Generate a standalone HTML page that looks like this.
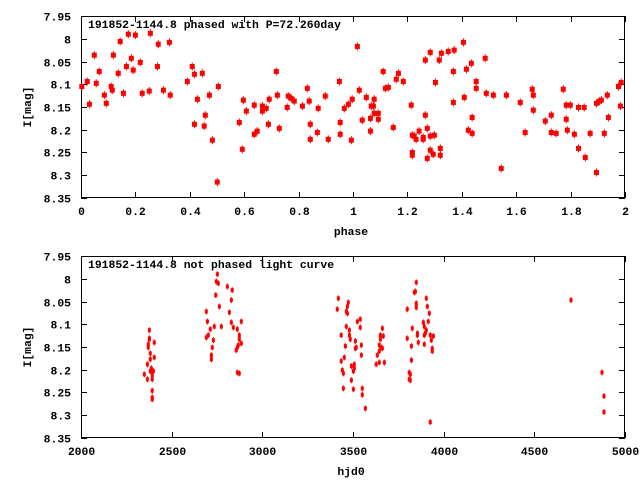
<!DOCTYPE html>
<html><head><meta charset="utf-8"><style>
html,body{margin:0;padding:0;background:#fff;}
svg text{font-family:"Liberation Mono",monospace;font-size:11.4px;font-weight:bold;fill:#000;}
</style></head><body>
<svg id="chart" width="640" height="480" xmlns="http://www.w3.org/2000/svg"></svg>
<script>
const phaseVals=[.003,.023,.031,.049,.056,.067,.086,.093,.111,.115,.119,.137,.144,.156,.167,.174,.185,.192,.200,.218,.225,.251,.255,.281,.284,.303,.325,.328,.391,.409,.417,.417,.428,.446,.453,.457,.472,.483,.501,.505,.582,.593,.597,.608,.637,.637,.648,.667,.667,.681,.689,.692,.718,.722,.729,.758,.762,.773,.784,.814,.832,.839,.843,.843,.869,.872,.898,.909,.950,.953,.953,.968,.983,.994,.997,
1.016,1.023,1.034,1.049,1.064,1.064,1.067,1.075,1.078,1.078,1.093,1.093,1.111,1.119,1.130,1.148,1.159,1.167,1.185,1.214,1.218,1.218,1.218,1.225,1.232,1.243,1.258,1.258,1.266,1.266,1.273,1.273,1.284,1.284,1.284,1.295,1.299,1.303,1.317,1.321,1.321,1.325,1.350,1.369,1.369,1.372,1.406,1.409,1.417,1.424,1.435,1.438,1.438,1.453,1.453,1.486,1.490,1.516,1.545,1.564,1.615,1.633,1.659,1.663,1.663,1.707,1.729,1.729,1.747,1.773,1.784,1.784,1.788,1.799,1.814,1.829,1.829,1.850,1.854,1.872,1.895,1.895,1.906,1.913,1.924,1.935,1.939,1.976,1.983,1.986];
const phaseMags=[8.105,8.094,8.144,8.036,8.098,8.072,8.124,8.142,8.105,8.113,8.036,8.076,8.006,8.120,8.061,7.990,8.043,8.069,7.992,8.052,8.120,8.115,7.988,8.061,8.012,8.113,8.008,8.124,8.094,8.061,8.078,8.188,8.133,8.076,8.192,8.168,8.124,8.223,8.315,8.105,8.184,8.243,8.135,8.159,8.146,8.210,8.203,8.148,8.159,8.153,8.188,8.133,8.072,8.124,8.197,8.151,8.126,8.131,8.137,8.148,8.109,8.137,8.188,8.221,8.206,8.153,8.126,8.221,8.094,8.184,8.210,8.153,8.144,8.223,8.133,
8.017,8.113,8.179,8.129,8.203,8.175,8.148,8.148,8.133,8.164,8.164,8.177,8.072,8.109,8.107,8.195,8.089,8.076,8.094,8.146,8.212,8.250,8.256,8.214,8.221,8.203,8.217,8.221,8.047,8.168,8.197,8.263,8.030,8.214,8.245,8.254,8.212,8.096,8.047,8.241,8.256,8.032,8.028,8.072,8.140,8.025,8.008,8.129,8.067,8.201,8.054,8.208,8.173,8.094,8.109,8.043,8.120,8.124,8.285,8.124,8.140,8.206,8.111,8.124,8.157,8.181,8.168,8.206,8.208,8.111,8.146,8.177,8.201,8.146,8.210,8.151,8.241,8.151,8.261,8.208,8.142,8.294,8.137,8.135,8.208,8.124,8.173,8.105,8.148,8.096];
const hjdVals=[2377,2377,2377,2371,2371,2404,2382,2382,2404,2366,2388,2393,2399,2382,2349,2393,2366,2393,2393,2393,2393,
2752,2746,2757,2807,2834,2743,2763,2829,2691,2818,2697,2829,2884,2735,2774,2713,2840,2862,2873,2702,2691,2730,2873,2884,2867,2862,2856,2724,2719,2719,2862,2873,
3419,3474,3469,3413,3463,3469,3540,3524,3540,3463,3480,3435,3480,3485,3513,3518,3513,3546,3458,3546,3452,3435,3491,3507,3507,3502,3441,3447,3491,3447,3502,3551,3551,3568,
3662,3651,3667,3651,3645,3656,3662,3645,3634,3645,3673,3628,
3849,3844,3838,3904,3849,3910,3849,3799,3921,3915,3888,3893,3827,3904,3899,3855,3855,3926,3943,3893,3799,3932,3860,3893,3822,3937,3937,3822,3810,3816,3810,3816,3926,
4702,4873,4884,4884];
const hjdMags=[8.113,8.131,8.133,8.144,8.151,8.140,8.164,8.177,8.173,8.188,8.197,8.203,8.203,8.203,8.210,8.212,8.221,8.221,8.246,8.261,8.265,
7.990,8.006,8.010,8.017,8.025,8.036,8.061,8.047,8.072,8.074,8.094,8.096,8.094,8.105,8.105,8.111,8.107,8.111,8.124,8.124,8.129,8.135,8.133,8.142,8.146,8.151,8.157,8.151,8.168,8.177,8.206,8.208,
8.043,8.052,8.061,8.067,8.072,8.076,8.089,8.094,8.107,8.105,8.113,8.124,8.124,8.133,8.137,8.151,8.153,8.146,8.148,8.168,8.173,8.181,8.192,8.188,8.197,8.203,8.201,8.208,8.223,8.241,8.243,8.241,8.255,8.285,
8.109,8.124,8.126,8.133,8.146,8.151,8.153,8.159,8.168,8.184,8.184,8.188,
8.008,8.028,8.030,8.043,8.054,8.061,8.063,8.067,8.076,8.094,8.096,8.105,8.109,8.113,8.120,8.120,8.124,8.124,8.126,8.124,8.131,8.135,8.140,8.144,8.148,8.153,8.159,8.179,8.206,8.210,8.221,8.223,8.315,
8.047,8.206,8.258,8.293];
const magTicks=["7.95","8","8.05","8.1","8.15","8.2","8.25","8.3","8.35"];
const phaseTicks=["0","0.2","0.4","0.6","0.8","1","1.2","1.4","1.6","1.8","2"];
const hjdTicks=["2000","2500","3000","3500","4000","4500","5000"];

const svg=document.getElementById('chart');
const NS='http://www.w3.org/2000/svg';
function mk(tag,attrs,parent){const e=document.createElementNS(NS,tag);for(const k in attrs)e.setAttribute(k,attrs[k]);(parent||svg).appendChild(e);return e;}
const L=81,R=625;
function panel(top,bot,xmin,xmax,xt,xs,ys,title,xlabel,name,big){
  const g=mk('g',{});
  
  
  const X=v=>L+(v-xmin)/(xmax-xmin)*(R-L);
  const Y=v=>top+(v-7.95)/0.4*(bot-top);
  const frame=mk('rect',{x:L+.5,y:top+.5,width:R-L-1,height:bot-top-1,fill:'none',stroke:'#000','stroke-width':1},g);
  
  
  magTicks.forEach(t=>{const y=Math.round(Y(parseFloat(t)))+.5;
    mk('line',{x1:L,x2:L+6,y1:y,y2:y,stroke:'#000'},g);mk('line',{x1:R-6,x2:R,y1:y,y2:y,stroke:'#000'},g);
    const tx=mk('text',{x:71,y:y+4,'text-anchor':'end'},g);tx.textContent=t;
    
    });
  xt.forEach(t=>{const x=Math.round(X(parseFloat(t)))+.5;
    mk('line',{x1:x,x2:x,y1:bot,y2:bot-6,stroke:'#000'},g);mk('line',{x1:x,x2:x,y1:top,y2:top+6,stroke:'#000'},g);
    const tx=mk('text',{x:x,y:bot+17,'text-anchor':'middle'},g);tx.textContent=t;
    
    });
  const ti=mk('text',{x:88,y:top+12},g);ti.textContent=title;
  
  
  const xl=mk('text',{x:351,y:bot+37,'text-anchor':'middle'},g);xl.textContent=xlabel;
  
  
  const cy=(top+bot)/2;
  const yl=mk('text',{x:0,y:0,'text-anchor':'middle',transform:`translate(31,${cy}) rotate(-90)`},g);yl.textContent='I[mag]';
  
  
  xs.forEach((v,i)=>{const px=X(v),py=Y(ys[i]);
    const m=mk('g',{},g);
    
    
    if(big){mk('rect',{x:px-2.5,y:py-2.5,width:5,height:5,fill:'#f00'},m);mk('rect',{x:px-.5,y:py-4,width:1,height:8,fill:'#f00'},m);}
    else{mk('rect',{x:px-1.5,y:py-2,width:3,height:4,fill:'#f00'},m);mk('rect',{x:px-.5,y:py-3,width:1,height:6,fill:'#f00'},m);}
  });
}
panel(16,198,0,2,phaseTicks,phaseVals,phaseMags,'191852-1144.8 phased with P=72.260day','phase','phased-panel',true);
panel(256,438,2000,5000,hjdTicks,hjdVals,hjdMags,'191852-1144.8 not phased light curve','hjd0','unphased-panel',false);
</script>
</body></html>
